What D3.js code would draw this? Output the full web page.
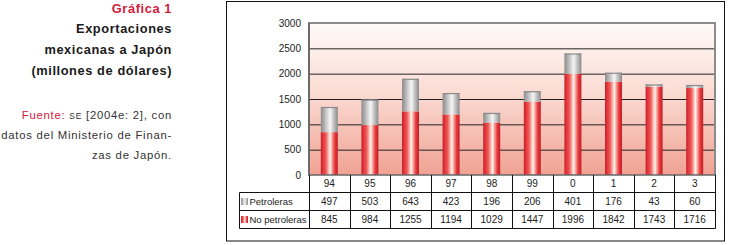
<!DOCTYPE html>
<html><head><meta charset="utf-8">
<script src="https://cdn.jsdelivr.net/npm/d3@7"></script>
<style>
body{margin:0;background:#fff;}
svg{display:block;font-family:"Liberation Sans",Arial,Helvetica,sans-serif;}
</style></head>
<body><svg id="c" width="731" height="245"></svg>
<script>
const years = ["94","95","96","97","98","99","0","1","2","3"];
const petroleras = [497,503,643,423,196,206,401,176,43,60];
const noPetroleras = [845,984,1255,1194,1029,1447,1996,1842,1743,1716];
const yTicks = [0,500,1000,1500,2000,2500,3000];
const seriesNames = ["Petroleras","No petroleras"];

const svg = d3.select("#c");
const defs = svg.append("defs");

const bg = defs.append("linearGradient").attr("id","bg").attr("x1",0).attr("y1",0).attr("x2",0).attr("y2",1);
bg.append("stop").attr("offset","0%").attr("stop-color","#fffaf8");
bg.append("stop").attr("offset","45%").attr("stop-color","#fbdcd4");
bg.append("stop").attr("offset","100%").attr("stop-color","#f0a293");

function cyl(id, stops){
  const g = defs.append("linearGradient").attr("id",id).attr("x1",0).attr("y1",0).attr("x2",1).attr("y2",0);
  stops.forEach(s=>g.append("stop").attr("offset",s[0]).attr("stop-color",s[1]));
}
cyl("red",[["0%","#c81e28"],["12%","#e2333a"],["30%","#ee5a58"],["45%","#f9b8b0"],["55%","#fff4ef"],["66%","#f7a49c"],["82%","#e6393c"],["100%","#c41c26"]]);
cyl("gray",[["0%","#8c8c8c"],["15%","#a6a6a6"],["35%","#cfcfcf"],["55%","#f6f6f6"],["75%","#c4c4c4"],["100%","#8a8a8a"]]);

// left text
const tx = 172;
const t = svg.append("g").attr("text-anchor","end");
t.append("text").attr("x",tx).attr("y",12.5).attr("font-size",12.8).attr("letter-spacing",0.6).attr("font-weight","bold").attr("fill","#d0203a").text("Gráfica 1");
[["Exportaciones",32.5],["mexicanas a Japón",53.5],["(millones de dólares)",74.5]].forEach(d=>{
  t.append("text").attr("x",tx).attr("y",d[1]).attr("font-size",12.8).attr("letter-spacing",0.6).attr("font-weight","bold").attr("fill","#1a1a1a").text(d[0]);
});
const fs = 11.3, ls = 0.75;
const f1 = t.append("text").attr("x",tx).attr("y",118.5).attr("font-size",fs).attr("letter-spacing",ls).attr("fill","#333");
f1.append("tspan").attr("fill","#d0203a").text("Fuente: ");
f1.append("tspan").attr("font-size",8.5).text("SE");
f1.append("tspan").text(" [2004e: 2], con");
t.append("text").attr("x",tx).attr("y",139).attr("font-size",fs).attr("letter-spacing",ls).attr("fill","#333").text("datos del Ministerio de Finan-");
t.append("text").attr("x",tx).attr("y",158.5).attr("font-size",fs).attr("letter-spacing",ls).attr("fill","#333").text("zas de Japón.");

// outer frame
svg.append("rect").attr("x",226.5).attr("y",1.5).attr("width",498).attr("height",239.5).attr("fill","none").attr("stroke","#111").attr("stroke-width",1);

// plot
const L=309, R=715, T=23, B=175;
const x = d3.scaleBand().domain(years).range([L,R]).paddingInner(0).paddingOuter(0);
const y = d3.scaleLinear().domain([0,3000]).range([B,T]);

svg.append("rect").attr("x",L).attr("y",T).attr("width",R-L).attr("height",B-T).attr("fill","url(#bg)");

svg.append("g").selectAll("line").data(yTicks.filter(v=>v>0&&v<3000)).join("line")
  .attr("x1",L).attr("x2",R).attr("y1",d=>y(d)+0.5).attr("y2",d=>y(d)+0.5)
  .attr("stroke","#222").attr("stroke-width",1);

const ya = svg.append("g").attr("transform",`translate(${L},0)`)
  .call(d3.axisLeft(y).tickValues(yTicks).tickSize(0).tickPadding(8).tickFormat(d3.format("d")));
ya.select(".domain").remove();
ya.selectAll("text").attr("font-size",10).attr("fill","#222").attr("font-family","Liberation Sans, Arial, sans-serif");

const bw = 17;
const data = years.map((yr,i)=>({yr,np:noPetroleras[i],p:petroleras[i]}));
const bars = svg.append("g");
bars.selectAll("rect.np").data(data).join("rect").attr("class","np")
  .attr("x",d=>x(d.yr)+x.bandwidth()/2-bw/2).attr("width",bw)
  .attr("y",d=>y(d.np)).attr("height",d=>y(0)-y(d.np)).attr("fill","url(#red)");
bars.selectAll("rect.p").data(data).join("rect").attr("class","p")
  .attr("x",d=>x(d.yr)+x.bandwidth()/2-bw/2).attr("width",bw)
  .attr("y",d=>y(d.np+d.p)).attr("height",d=>y(d.np)-y(d.np+d.p)).attr("fill","url(#gray)");
bars.selectAll("line.cap").data(data).join("line").attr("class","cap")
  .attr("x1",d=>x(d.yr)+x.bandwidth()/2-bw/2).attr("x2",d=>x(d.yr)+x.bandwidth()/2+bw/2)
  .attr("y1",d=>y(d.np+d.p)+0.5).attr("y2",d=>y(d.np+d.p)+0.5).attr("stroke","#8a8a8a").attr("stroke-width",1.2);

svg.append("path").attr("d",`M${L},${B}V${T}H${R}V${B}`).attr("fill","none").attr("stroke","#8c8c8c").attr("stroke-width",2);
svg.append("line").attr("x1",L).attr("x2",L).attr("y1",T).attr("y2",B).attr("stroke","#555").attr("stroke-width",1.2);
svg.append("line").attr("x1",L-1).attr("x2",R+1).attr("y1",B).attr("y2",B).attr("stroke","#666").attr("stroke-width",1.5);

// table
const r0=175, r1=192.5, r2=210.5, r3=228.5, LL=239.5;
const tb = svg.append("g").attr("stroke","#111").attr("stroke-width",1).attr("fill","none");
tb.append("path").attr("d",`M${L+0.5},${r0}V${r3}M${R+0.5},${r0}V${r3}M${LL},${r1}V${r3}M${LL},${r1}H${R+0.5}M${LL},${r2}H${R+0.5}M${LL},${r3}H${R+0.5}`);
tb.selectAll("line.v").data(years.slice(1)).join("line").attr("class","v")
  .attr("x1",d=>Math.round(x(d))+0.5).attr("x2",d=>Math.round(x(d))+0.5).attr("y1",r0).attr("y2",r3);

const tt = svg.append("g").attr("font-size",10).attr("fill","#222").attr("text-anchor","middle");
tt.selectAll("text.h").data(years).join("text").attr("class","h")
  .attr("x",d=>x(d)+x.bandwidth()/2).attr("y",(r0+r1)/2+3.5).text(d=>d);
tt.selectAll("text.p").data(data).join("text").attr("class","p")
  .attr("x",d=>x(d.yr)+x.bandwidth()/2).attr("y",(r1+r2)/2+3.5).text(d=>d.p);
tt.selectAll("text.np").data(data).join("text").attr("class","np")
  .attr("x",d=>x(d.yr)+x.bandwidth()/2).attr("y",(r2+r3)/2+3.5).text(d=>d.np);

const lg = svg.append("g");
lg.append("rect").attr("x",241).attr("y",198).attr("width",7).attr("height",7).attr("fill","url(#gray)");
lg.append("rect").attr("x",241).attr("y",216).attr("width",7).attr("height",7).attr("fill","url(#red)");
lg.append("text").attr("x",249.5).attr("y",(r1+r2)/2+3.5).attr("font-size",9.5).attr("fill","#222").text(seriesNames[0]);
lg.append("text").attr("x",249.5).attr("y",(r2+r3)/2+3.5).attr("font-size",9.5).attr("fill","#222").text(seriesNames[1]);
</script></body></html>
